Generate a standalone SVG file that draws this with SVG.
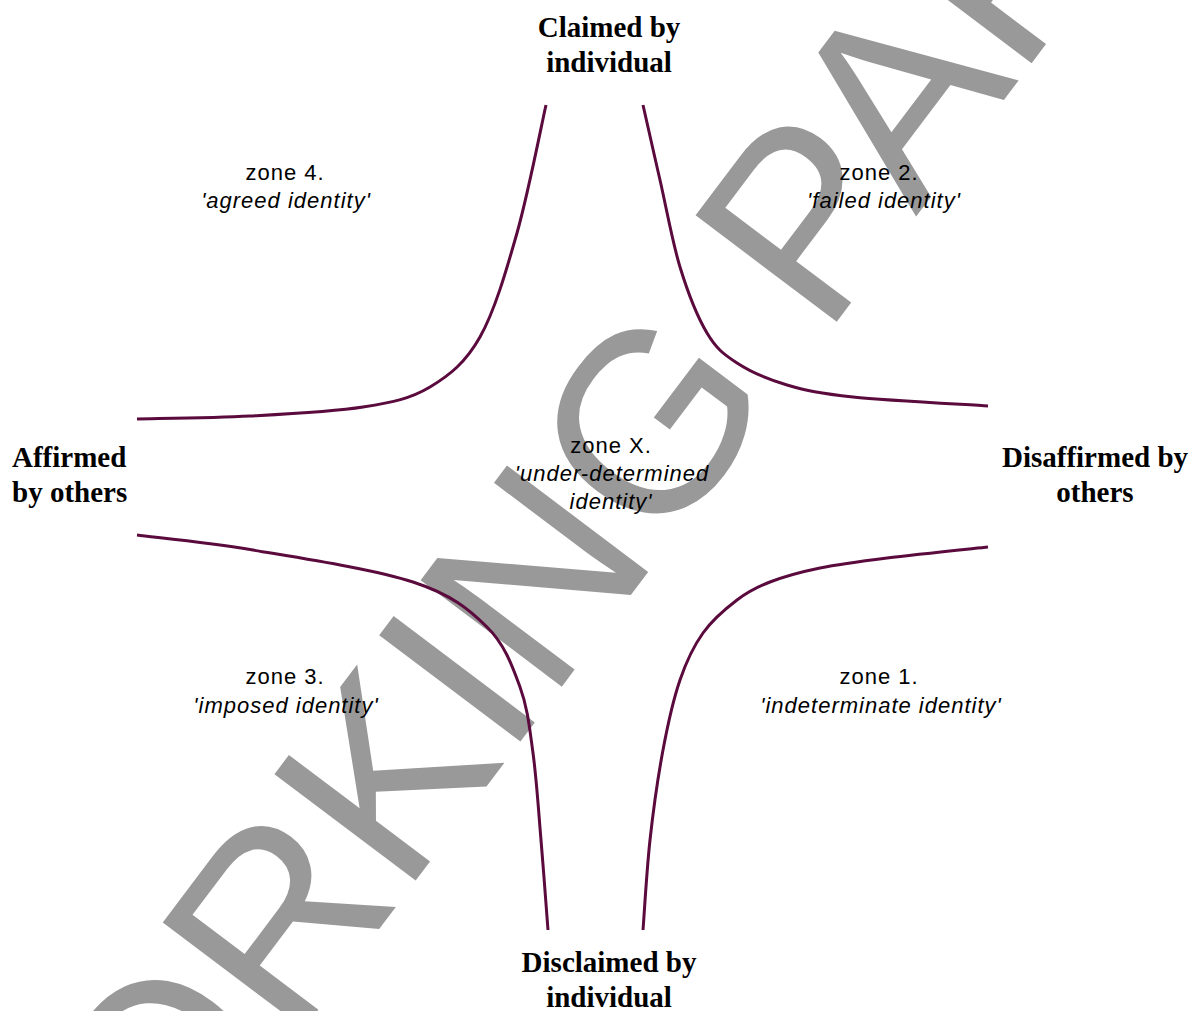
<svg xmlns="http://www.w3.org/2000/svg" width="1198" height="1011" viewBox="0 0 1198 1011">
  <style>
    .axis { font-family: "Liberation Serif", "Times New Roman", serif; font-weight: bold; font-size: 29px; fill: #000; }
    .zone { font-family: "Liberation Sans", Arial, sans-serif; font-size: 22px; letter-spacing: 1px; fill: #000; text-anchor: middle; }
    .zone .it { font-style: italic; }
    .curve { fill: none; stroke: #5a0a3c; stroke-width: 3; stroke-linecap: butt; }
    .stamp { font-family: "Liberation Sans", Arial, sans-serif; font-size: 257px; fill: #999999; }
  </style>
  <rect width="1198" height="1011" fill="#ffffff"/>

  <!-- background stamp -->
  <text class="stamp" transform="translate(25,1399) rotate(-53)">WORKING PAPER</text>

  <!-- boundary curves between zones -->
  <g id="connectors">
    <path id="curve-top-left" class="curve" d="M546,105 C541.2,126.3 528,194.3 517,233 C506,271.7 494.5,311.3 480,337 C465.5,362.7 449.5,375.3 430,387 C410.5,398.7 393,402.2 363,407 C333,411.8 287.7,414 250,416 C212.3,418 155.8,418.5 137,419"/>
    <path id="curve-top-right" class="curve" d="M643,105 C645.8,117.5 653.8,153 660,180 C666.2,207 672.2,241.5 680,267 C687.8,292.5 697.5,317 707,333 C716.5,349 723.7,354.3 737,363 C750.3,371.7 767.7,379.3 787,385 C806.3,390.7 819.5,393.5 853,397 C886.5,400.5 965.5,404.5 988,406"/>
    <path id="curve-bottom-left" class="curve" d="M137,535 C156.3,537.5 207,542.2 253,550 C299,557.8 374,569.2 413,582 C452,594.8 469.2,609.5 487,627 C504.8,644.5 512.3,666 520,687 C527.7,708 529.5,727.5 533,753 C536.5,778.5 538.5,810.5 541,840 C543.5,869.5 546.8,915 548,930"/>
    <path id="curve-bottom-right" class="curve" d="M988,547 C971.2,548.8 915,554.5 887,558 C859,561.5 839.5,564 820,568 C800.5,572 783.8,576.7 770,582 C756.2,587.3 748.2,591.5 737,600 C725.8,608.5 712.5,619.7 703,633 C693.5,646.3 686.7,660.5 680,680 C673.3,699.5 668,723.3 663,750 C658,776.7 653.3,810 650,840 C646.7,870 644.2,915 643,930"/>
  </g>

  <!-- axis ends -->
  <g id="claimed">
    <text class="axis" x="609" y="37" text-anchor="middle">Claimed by</text>
    <text class="axis" x="609" y="72" text-anchor="middle">individual</text>
  </g>
  <g id="disclaimed">
    <text class="axis" x="609" y="972" text-anchor="middle">Disclaimed by</text>
    <text class="axis" x="609" y="1007" text-anchor="middle">individual</text>
  </g>
  <g id="affirmed">
    <text class="axis" x="12" y="467">Affirmed</text>
    <text class="axis" x="12" y="502">by others</text>
  </g>
  <g id="disaffirmed">
    <text class="axis" x="1095" y="467" text-anchor="middle">Disaffirmed by</text>
    <text class="axis" x="1095" y="502" text-anchor="middle">others</text>
  </g>

  <!-- zones -->
  <g id="zone-4" class="zone">
    <text x="285" y="180">zone 4.</text>
    <text class="it" x="286" y="208">'agreed identity'</text>
  </g>
  <g id="zone-2" class="zone">
    <text x="879" y="180">zone 2.</text>
    <text class="it" x="884" y="208">'failed identity'</text>
  </g>
  <g id="zone-x" class="zone">
    <text x="611" y="453">zone X.</text>
    <text class="it" x="612" y="481">'under-determined</text>
    <text class="it" x="611" y="509">identity'</text>
  </g>
  <g id="zone-3" class="zone">
    <text x="285" y="684">zone 3.</text>
    <text class="it" x="286" y="713">'imposed identity'</text>
  </g>
  <g id="zone-1" class="zone">
    <text x="879" y="684">zone 1.</text>
    <text class="it" x="881" y="713">'indeterminate identity'</text>
  </g>
</svg>
